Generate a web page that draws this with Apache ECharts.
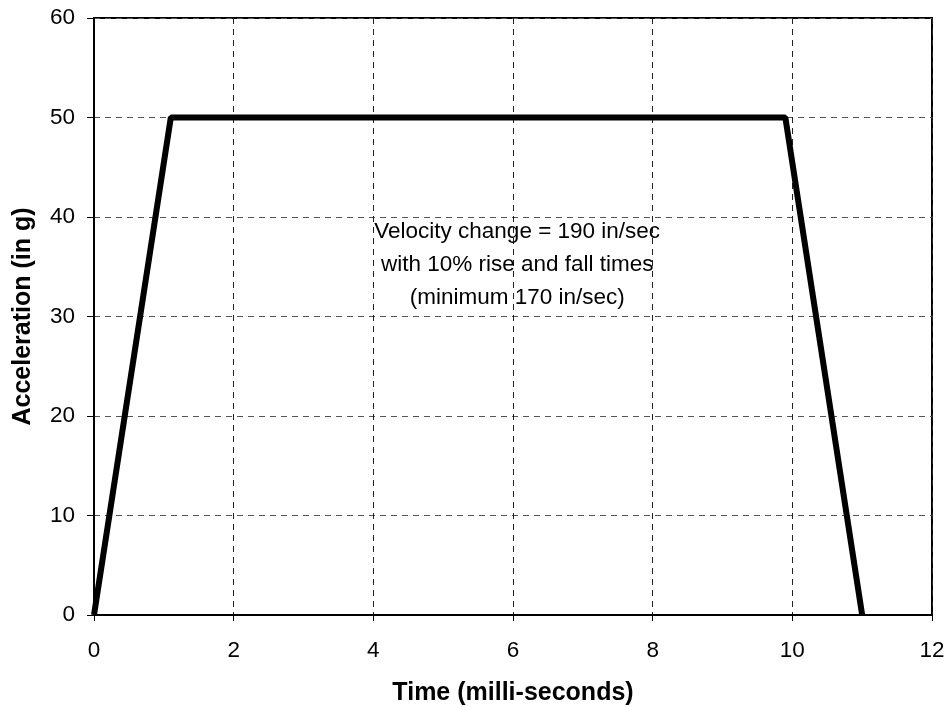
<!DOCTYPE html>
<html>
<head>
<meta charset="utf-8">
<script src="https://cdn.jsdelivr.net/npm/echarts@6/dist/echarts.min.js"></script>
<style>
  html, body { margin: 0; padding: 0; background: #fff; }
  #chart { width: 946px; height: 707px; }
</style>
</head>
<body>
<div id="chart"></div>
<script>
// pulse shape: time (ms) vs acceleration (g)
const timeMs = [0, 1.1, 9.9, 11];
const accelG = [0, 50, 50, 0];
const noteLines = ['Velocity change = 190 in/sec', 'with 10% rise and fall times', '(minimum 170 in/sec)'];

const font = 'Liberation Sans, Arial, sans-serif';
const chart = echarts.init(document.getElementById('chart'));

const option = {
    animation: false,
    grid: {
        left: 94, right: 14, top: 18, bottom: 92,
        outerBoundsMode: 'none',
        containLabel: false,
        show: true, borderColor: '#000', borderWidth: 2
    },
    xAxis: {
        type: 'value',
        min: 0, max: 12, interval: 2,
        name: 'Time (milli-seconds)',
        nameLocation: 'middle',
        nameGap: 66,
        nameTextStyle: { fontFamily: font, fontSize: 25, fontWeight: 'bold', color: '#000' },
        axisLine: { lineStyle: { color: '#000', width: 2 } },
        axisTick: { show: true, length: 6, lineStyle: { color: '#000' } },
        axisLabel: { fontFamily: font, fontSize: 22.5, color: '#000', margin: 24 },
        splitLine: { show: true, lineStyle: { color: '#222', type: [6, 5], width: 1 } }
    },
    yAxis: {
        type: 'value',
        min: 0, max: 60, interval: 10,
        name: 'Acceleration (in g)',
        nameLocation: 'middle',
        nameGap: 58,
        nameTextStyle: { fontFamily: font, fontSize: 25, fontWeight: 'bold', color: '#000' },
        axisLine: { show: true, lineStyle: { color: '#000', width: 2 } },
        axisTick: { show: true, length: 7, lineStyle: { color: '#000' } },
        axisLabel: { fontFamily: font, fontSize: 22.5, color: '#000', margin: 19 },
        splitLine: { show: true, lineStyle: { color: '#555', type: [6, 5], width: 1 } }
    },
    series: [{
        type: 'line',
        data: timeMs.map((t, i) => [t, accelG[i]]),
        showSymbol: false,
        lineStyle: { color: '#000', width: 6 },
        z: 3
    }],
    graphic: []
};

chart.setOption(option);

// annotation placed in data coordinates
const anchor = chart.convertToPixel({ gridIndex: 0 }, [6.06, 35.2]);
chart.setOption({
    graphic: [{
        type: 'text',
        x: anchor[0],
        y: anchor[1],
        style: {
            text: noteLines.join('\n'),
            fontFamily: font,
            fontSize: 22.5,
            lineHeight: 33,
            fill: '#000',
            align: 'center',
            verticalAlign: 'middle'
        },
        z: 10
    }]
});
</script>
</body>
</html>
